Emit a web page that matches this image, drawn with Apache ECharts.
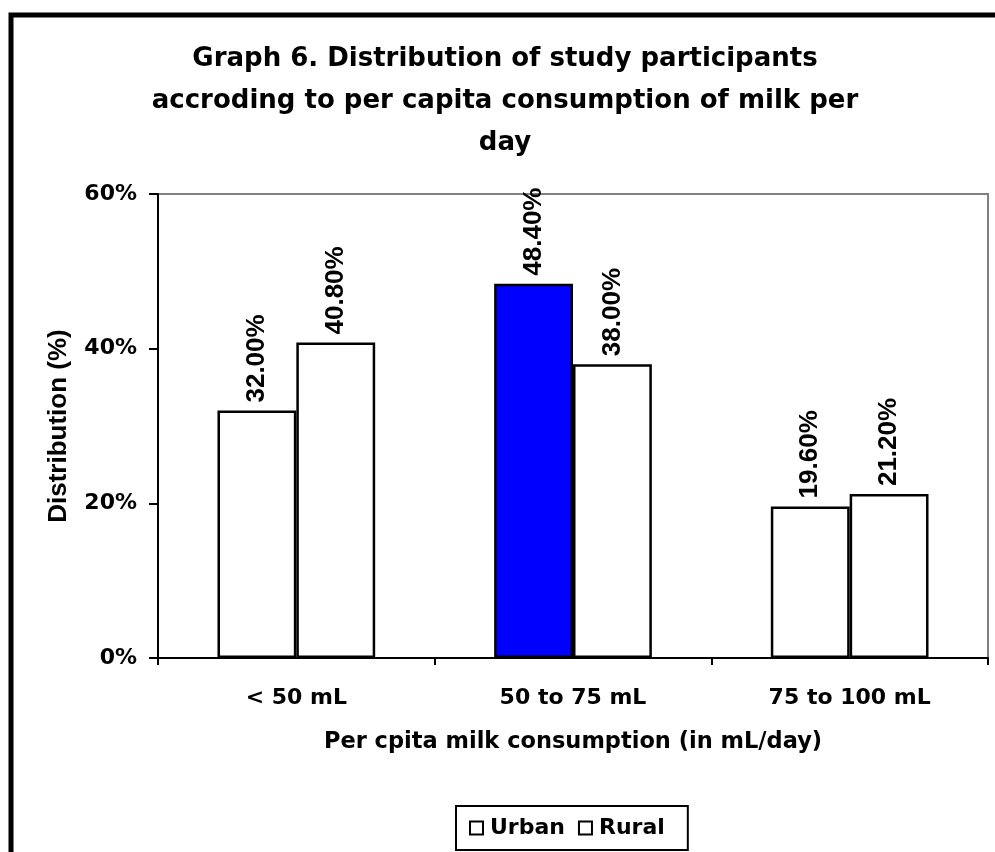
<!DOCTYPE html>
<html><head><meta charset="utf-8">
<script src="https://cdn.jsdelivr.net/npm/echarts@6/dist/echarts.min.js"></script>
<style>html,body{margin:0;padding:0;background:#fff}#c{width:995px;height:852px}</style>
</head><body><div id="c"></div>
<script>
var categories = ['< 50 mL', '50 to 75 mL', '75 to 100 mL'];
var urban = [32.0, 48.4, 19.6];
var rural = [40.8, 38.0, 21.2];
var yTicks = [0, 20, 40, 60];

var FW = '"DejaVu Sans", Verdana, sans-serif';
var FA = 'Arial, "Liberation Sans", sans-serif';
var chart = echarts.init(document.getElementById('c'), null, {renderer: 'canvas'});
var lbl = {
  show: true, position: 'top', rotate: 90, align: 'left', verticalAlign: 'middle', distance: 8,
  fontFamily: FA, fontWeight: 'bold', fontSize: 26, color: '#000',
  formatter: function (p) { return p.value.toFixed(2) + '%'; }
};
chart.setOption({
  animation: false,
  backgroundColor: '#fff',
  title: {
    text: 'Graph 6. Distribution of study participants\naccroding to per capita consumption of milk per\nday',
    left: 505, top: 38, padding: 0, textAlign: 'center',
    textStyle: {fontFamily: FW, fontWeight: 'bold', fontSize: 26, lineHeight: 42, color: '#000'}
  },
  graphic: [{
    type: 'rect', shape: {x: 11, y: 15, width: 1000, height: 900},
    style: {fill: 'none', stroke: '#000', lineWidth: 5}, z: 100
  }],
  legend: {
    left: 456, top: 806,
    borderColor: '#000', borderWidth: 2, padding: [11, 23, 11, 13],
    itemWidth: 13, itemHeight: 13, itemGap: 13,
    textStyle: {fontFamily: FW, fontWeight: 'bold', fontSize: 22, color: '#000', padding: [0, 0, 0, 2]},
    data: [
      {name: 'Urban', icon: 'rect', itemStyle: {color: '#fff', borderColor: '#000', borderWidth: 2}},
      {name: 'Rural', icon: 'rect', itemStyle: {color: '#fff', borderColor: '#000', borderWidth: 2}}
    ]
  },
  grid: {left: 158, top: 194, right: 7, bottom: 194, show: true, borderColor: '#808080', borderWidth: 2, backgroundColor: '#fff'},
  xAxis: {
    type: 'category', data: categories,
    name: 'Per cpita milk consumption (in mL/day)', nameLocation: 'middle', nameGap: 73,
    nameTextStyle: {fontFamily: FW, fontWeight: 'bold', fontSize: 22.5, color: '#000'},
    axisLine: {lineStyle: {color: '#000', width: 2}},
    axisTick: {show: true, length: 7, lineStyle: {color: '#000', width: 2}},
    axisLabel: {margin: 29, fontFamily: FW, fontWeight: 'bold', fontSize: 22, color: '#000'}
  },
  yAxis: {
    type: 'value', min: 0, max: 60, interval: 20,
    name: 'Distribution (%)', nameLocation: 'middle', nameGap: 86,
    nameTextStyle: {fontFamily: FA, fontWeight: 'bold', fontSize: 26, color: '#000'},
    axisLine: {show: true, lineStyle: {color: '#000', width: 2}},
    axisTick: {show: true, length: 9, lineStyle: {color: '#000', width: 2}},
    splitLine: {show: false},
    axisLabel: {margin: 21, fontFamily: FW, fontWeight: 'bold', fontSize: 22, color: '#000',
      formatter: function (v) { return yTicks.indexOf(v) >= 0 ? v + '%' : ''; }}
  },
  series: [
    {name: 'Urban', type: 'bar', barGap: '0%', barCategoryGap: '43%',
     data: urban.map(function (v, i) {
       return {value: v, itemStyle: {color: i === 1 ? '#0000FF' : '#fff'}};
     }),
     itemStyle: {color: '#fff', borderColor: '#000', borderWidth: 2.5}, label: lbl},
    {name: 'Rural', type: 'bar', data: rural,
     itemStyle: {color: '#fff', borderColor: '#000', borderWidth: 2.5}, label: lbl}
  ]
});
</script></body></html>
